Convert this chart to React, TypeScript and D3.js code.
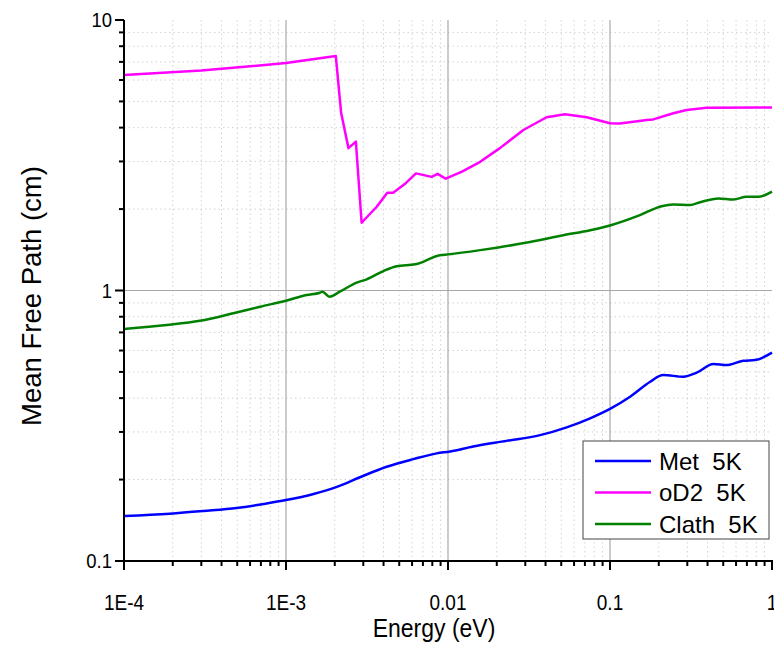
import React from "react";
import * as d3 from "d3";

// Mean free path vs neutron energy for three moderator materials at 5 K
const metEnergy = [1e-4, 1.92e-4, 3.09e-4, 4.97e-4, 7.25e-4, 1e-3, 1.48e-3, 2.06e-3, 2.86e-3, 4.18e-3, 6.11e-3, 8.52e-3, 0.0103, 0.0143, 0.023, 0.037, 0.054, 0.0754, 0.1, 0.133, 0.177, 0.213, 0.284, 0.343, 0.435, 0.525, 0.665, 0.785, 1];
const metPath = [0.1467, 0.1496, 0.153, 0.157, 0.1625, 0.168, 0.177, 0.188, 0.204, 0.223, 0.238, 0.25, 0.254, 0.265, 0.278, 0.292, 0.312, 0.337, 0.365, 0.405, 0.46, 0.487, 0.48, 0.497, 0.535, 0.53, 0.55, 0.553, 0.589];

const od2Energy = [1e-4, 3e-4, 1e-3, 2.03e-3, 2.19e-3, 2.43e-3, 2.7e-3, 2.93e-3, 3.63e-3, 4.22e-3, 4.59e-3, 5.43e-3, 6.34e-3, 7.92e-3, 8.63e-3, 9.68e-3, 0.0122, 0.0158, 0.0209, 0.0292, 0.0406, 0.0527, 0.0718, 0.1, 0.115, 0.169, 0.185, 0.246, 0.297, 0.395, 1];
const od2Path = [6.26, 6.5, 6.93, 7.36, 4.53, 3.36, 3.55, 1.78, 2.04, 2.3, 2.3, 2.48, 2.71, 2.63, 2.7, 2.59, 2.75, 2.99, 3.36, 3.92, 4.37, 4.48, 4.37, 4.15, 4.14, 4.27, 4.29, 4.52, 4.65, 4.74, 4.75];

const clathEnergy = [1e-4, 1.84e-4, 2.94e-4, 4.73e-4, 6.92e-4, 1e-3, 1.34e-3, 1.62e-3, 1.68e-3, 1.85e-3, 2.15e-3, 2.73e-3, 3.15e-3, 3.99e-3, 4.82e-3, 6.3e-3, 8.9e-3, 0.01, 0.0158, 0.02, 0.0321, 0.0515, 0.0754, 0.1, 0.153, 0.208, 0.246, 0.312, 0.36, 0.467, 0.577, 0.698, 0.823, 1];
const clathPath = [0.721, 0.746, 0.773, 0.824, 0.871, 0.917, 0.962, 0.981, 0.99, 0.949, 0.99, 1.07, 1.1, 1.18, 1.23, 1.25, 1.35, 1.36, 1.41, 1.44, 1.51, 1.6, 1.67, 1.74, 1.9, 2.05, 2.08, 2.07, 2.12, 2.19, 2.17, 2.22, 2.22, 2.32];

const seriesNames = ["Met  5K", "oD2  5K", "Clath  5K"];
const seriesColors = ["#0000ff", "#ff00ff", "#008000"];

const xTickValues = [1e-4, 1e-3, 0.01, 0.1, 1];
const xTickLabels = ["1E-4", "1E-3", "0.01", "0.1", "1"];
const yTickValues = [0.1, 1, 10];
const yTickLabels = ["0.1", "1", "10"];

const xTitle = "Energy (eV)";
const yTitle = "Mean Free Path (cm)";

const W = 774;
const H = 650;
const left = 124;
const right = 772;
const top = 20;
const bottom = 561;

const font = "'Liberation Sans', Arial, sans-serif";

export default function App() {
  const x = d3.scaleLog().domain([1e-4, 1]).range([left, right]);
  const y = d3.scaleLog().domain([0.1, 10]).range([bottom, top]);

  const minorX: number[] = [];
  for (let e = -4; e < 0; e++) for (let m = 2; m <= 9; m++) minorX.push(m * Math.pow(10, e));
  const minorY: number[] = [];
  for (let e = -1; e < 1; e++) for (let m = 2; m <= 9; m++) minorY.push(m * Math.pow(10, e));

  const series = [
    { xs: metEnergy, ys: metPath, curve: d3.curveMonotoneX },
    { xs: od2Energy, ys: od2Path, curve: d3.curveLinear },
    { xs: clathEnergy, ys: clathPath, curve: d3.curveMonotoneX },
  ];

  const paths = series.map((s) =>
    d3
      .line<number>()
      .x((_, i) => x(s.xs[i]))
      .y((v) => y(v))
      .curve(s.curve)(s.ys) as string
  );

  const legendX = 583;
  const legendY = 441;
  const rowGap = 31.5;

  return (
    <div style={{ position: "fixed", left: 0, top: 0 }}>
      <svg width={W} height={H} style={{ display: "block", background: "#fff" }}>
        {/* minor grid */}
        {minorX.map((v) => (
          <line key={"mx" + v} x1={x(v)} x2={x(v)} y1={top} y2={bottom} stroke="#d2d2d2" strokeWidth={1} strokeDasharray="1.5,3" />
        ))}
        {minorY.map((v) => (
          <line key={"my" + v} x1={left} x2={right} y1={y(v)} y2={y(v)} stroke="#d2d2d2" strokeWidth={1} strokeDasharray="1.5,3" />
        ))}
        {/* major grid */}
        {xTickValues.slice(1, -1).map((v) => (
          <line key={"gx" + v} x1={x(v)} x2={x(v)} y1={top} y2={bottom} stroke="#a8a8a8" strokeWidth={1.2} />
        ))}
        <line x1={left} x2={right} y1={y(1)} y2={y(1)} stroke="#a8a8a8" strokeWidth={1.2} />

        {/* data */}
        <defs>
          <clipPath id="plotClip">
            <rect x={left} y={top - 2} width={right - left + 2} height={bottom - top + 2} />
          </clipPath>
        </defs>
        <g clipPath="url(#plotClip)">
          {paths.map((d, i) => (
            <path key={i} d={d} fill="none" stroke={seriesColors[i]} strokeWidth={2.5} strokeLinejoin="round" />
          ))}
        </g>

        {/* axes */}
        <line x1={left} x2={left} y1={top} y2={bottom + 1} stroke="#000" strokeWidth={2} />
        <line x1={left - 1} x2={right + 1} y1={bottom} y2={bottom} stroke="#000" strokeWidth={2} />
        {xTickValues.map((v) => (
          <line key={"tx" + v} x1={x(v)} x2={x(v)} y1={bottom} y2={bottom + 9} stroke="#000" strokeWidth={2} />
        ))}
        {minorX.map((v) => (
          <line key={"tmx" + v} x1={x(v)} x2={x(v)} y1={bottom} y2={bottom + 5} stroke="#000" strokeWidth={2} />
        ))}
        {yTickValues.map((v) => (
          <line key={"ty" + v} x1={left - 9} x2={left} y1={y(v)} y2={y(v)} stroke="#000" strokeWidth={2} />
        ))}
        {minorY.map((v) => (
          <line key={"tmy" + v} x1={left - 5} x2={left} y1={y(v)} y2={y(v)} stroke="#000" strokeWidth={2} />
        ))}

        {/* tick labels, set in a slightly tall face */}
        {xTickValues.map((v, i) => (
          <text key={"lx" + v} transform={`translate(${x(v)}, ${bottom + 49}) scale(1, 1.12)`} textAnchor="middle" fontFamily={font} fontSize={19} fill="#000">
            {xTickLabels[i]}
          </text>
        ))}
        {yTickValues.map((v, i) => (
          <text key={"ly" + v} transform={`translate(${left - 12}, ${y(v) + 7}) scale(1, 1.12)`} textAnchor="end" fontFamily={font} fontSize={18.5} fill="#000">
            {yTickLabels[i]}
          </text>
        ))}

        {/* titles */}
        <text transform={`translate(${(left + right) / 2 - 14}, 637) scale(1, 1.1)`} textAnchor="middle" fontFamily={font} fontSize={23} fill="#000">
          {xTitle}
        </text>
        <text transform={`translate(41, 296) rotate(-90)`} textAnchor="middle" fontFamily={font} fontSize={27.5} fill="#000">
          {yTitle}
        </text>

        {/* legend */}
        <rect x={legendX} y={legendY} width={186} height={98} fill="#fff" stroke="#444" strokeWidth={1} />
        {seriesNames.map((name, i) => (
          <g key={name}>
            <line x1={legendX + 12} x2={legendX + 68} y1={legendY + 20 + i * rowGap} y2={legendY + 20 + i * rowGap} stroke={seriesColors[i]} strokeWidth={2.5} />
            <text x={legendX + 76} y={legendY + 28.5 + i * rowGap} fontFamily={font} fontSize={24} fill="#000" style={{ whiteSpace: "pre" }}>
              {name}
            </text>
          </g>
        ))}
      </svg>
    </div>
  );
}
